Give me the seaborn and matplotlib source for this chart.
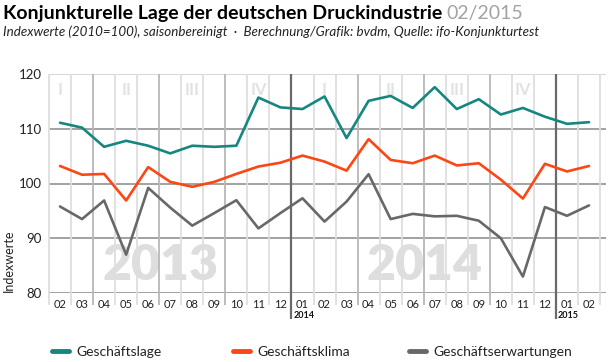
import numpy as np
import pandas as pd
import seaborn as sns
import matplotlib.pyplot as plt
from matplotlib.lines import Line2D

# monthly values 02/2013 - 02/2015
months = ["02", "03", "04", "05", "06", "07", "08", "09", "10", "11", "12",
          "01", "02", "03", "04", "05", "06", "07", "08", "09", "10", "11", "12",
          "01", "02"]
lage = [111.1, 110.2, 106.7, 107.8, 106.9, 105.5, 106.9, 106.7, 106.9, 115.7, 113.9,
        113.6, 115.9, 108.3, 115.1, 116.0, 113.8, 117.6, 113.6, 115.4, 112.6, 113.8, 112.2,
        110.9, 111.2]
klima = [103.2, 101.6, 101.75, 96.9, 103.0, 100.3, 99.4, 100.3, 101.75, 103.1, 103.8,
         105.1, 104.0, 102.35, 108.1, 104.3, 103.7, 105.1, 103.3, 103.7, 100.7, 97.25, 103.6,
         102.2, 103.2]
erwartungen = [95.8, 93.5, 96.9, 87.0, 99.2, 95.6, 92.3, 94.6, 96.95, 91.8, 94.6,
               97.3, 93.05, 96.7, 101.7, 93.5, 94.45, 94.0, 94.1, 93.2, 90.0, 83.0, 95.7,
               94.1, 96.0]
series_names = ["Geschäftslage", "Geschäftsklima", "Geschäftserwartungen"]
colors = ["#15877f", "#fb4714", "#66696c"]
quarters = ["I", "II", "III", "IV", "I", "II", "III", "IV"]
quarter_pos = [0, 3, 6, 9, 12, 15, 18, 21]
years_big = ["2013", "2014"]
years_big_pos = [4.55, 16.55]
year_marks = ["2014", "2015"]
year_mark_pos = [11, 23]

df = pd.DataFrame({
    "idx": list(range(len(months))) * 3,
    "wert": lage + klima + erwartungen,
    "reihe": [series_names[0]] * len(months) + [series_names[1]] * len(months)
             + [series_names[2]] * len(months),
})

sns.set_theme(style="white")
plt.rcParams["font.family"] = ["Lato", "DejaVu Sans"]

fig = plt.figure(figsize=(6.1, 3.62), dpi=100)
ax = fig.add_axes([49 / 610, 1 - 293 / 362, 557 / 610, 219 / 362])

sns.lineplot(data=df, x="idx", y="wert", hue="reihe", palette=colors,
             linewidth=1.9, ax=ax, legend=False, zorder=3)

ax.set_xlim(-0.5, 24.77)
ax.set_ylim(80, 120)
for s in ax.spines.values():
    s.set_visible(False)

# horizontal grid
for v in [80, 90, 100, 110]:
    ax.axhline(v, color="#a2a2a2", lw=1.4, zorder=1)
ax.axhline(120, color="#d6d6d6", lw=1.4, zorder=1)

# vertical grid: months light, quarter starts darker, year starts dark
for i in range(26):
    b = i - 0.5
    real_month = (i + 1) % 12 + 1  # month starting at boundary
    if real_month == 1:
        ax.vlines(b, 75.3, 120, color="#6a6a6a", lw=1.6, zorder=1.2, clip_on=False)
    elif real_month in (4, 7, 10):
        ax.vlines(b, 77.8, 120, color="#b8b8b8", lw=1.3, zorder=1.1, clip_on=False)
    else:
        ax.vlines(b, 77.8, 120, color="#dedede", lw=1.3, zorder=1, clip_on=False)

ax.set_xticks(range(len(months)))
ax.set_xticklabels(months)
ax.set_yticks([80, 90, 100, 110, 120])
ax.tick_params(axis="x", length=0, pad=4, labelsize=8, colors="#222222")
ax.tick_params(axis="y", length=0, pad=5, labelsize=9.5, colors="#222222")
ax.set_xlabel("")
ax.set_ylabel("Indexwerte", fontsize=9, color="#222222")
ax.yaxis.set_label_coords(-0.062, 0.145)

for q, p in zip(quarters, quarter_pos):
    ax.text(p, 117.1, q, ha="center", va="center", fontsize=12, fontweight="bold",
            color="#e2e2e2", zorder=0.5)
for y, p in zip(years_big, years_big_pos):
    ax.text(p, 85.1, y, ha="center", va="center", fontsize=36, fontweight="heavy",
            color="#dedede", zorder=0.5)
for y, p in zip(year_marks, year_mark_pos):
    ax.text(p - 0.42, 75.8, y, ha="left", va="center", fontsize=6.5, fontweight="bold",
            color="#111111", clip_on=False)

title = fig.text(3 / 610, 1 - 13 / 362, "Konjunkturelle Lage der deutschen Druckindustrie",
                 fontsize=14, fontweight="bold", color="#000000", va="center", ha="left")
fig.canvas.draw()
tb = title.get_window_extent()
fig.text((tb.x1 + 4) / 610, 1 - 13 / 362, "02/2015", fontsize=14, fontweight="normal",
         color="#a3a3a3", va="center", ha="left")
fig.text(3 / 610, 1 - 32 / 362,
         "Indexwerte (2010=100), saisonbereinigt  \u00b7  Berechnung/Grafik: bvdm, Quelle: ifo-Konjunkturtest",
         fontsize=9.6, style="italic", color="#222222", va="center", ha="left")

# legend, one entry per block
for name, c, x0 in zip(series_names, colors, [52, 233, 409]):
    h = Line2D([], [], color=c, lw=3.5)
    fig.legend([h], [name], loc="center left", bbox_to_anchor=(x0 / 610, 1 - 352 / 362),
               frameon=False, fontsize=10, handlelength=1.25, handletextpad=0.5,
               borderpad=0, borderaxespad=0, labelcolor="#222222")

plt.savefig("out.png", dpi=100)
